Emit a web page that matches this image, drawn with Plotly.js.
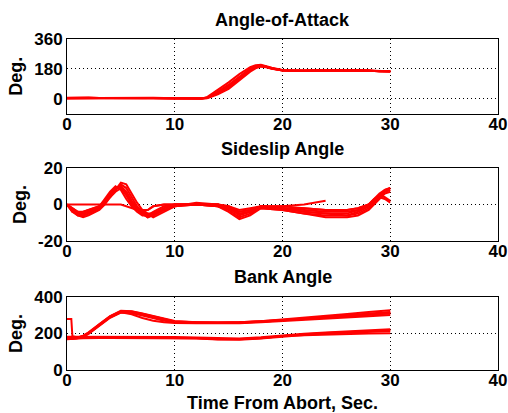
<!DOCTYPE html>
<html>
<head>
<meta charset="utf-8">
<script src="https://cdn.plot.ly/plotly-3.0.1.min.js"></script>
<style>html,body{margin:0;padding:0;background:#fff;}#chart{width:508px;height:413px;}</style>
</head>
<body>
<div id="chart"></div>
<script>
// ---------- Data ----------
const panelTitles = ["Angle-of-Attack", "Sideslip Angle", "Bank Angle"];
const yLabel = "Deg.";
const xLabel = "Time From Abort, Sec.";
const xTicks = [0, 10, 20, 30, 40];
const aoaTicks = [0, 180, 360];
const betaTicks = [-20, 0, 20];
const bankTicks = [0, 200, 400];

// Angle-of-attack runs
const tAoA = [0,1,2,3,4,5,6,7,8,9,10,11,12,12.5,13,14,15,16,17,17.5,18,18.5,19,20,21,22,23,24,25,26,27,28,28.5,29,30];
const aoaRun1 = [2,4,3,2,3,2,2,2,3,2,0,0,0,0,4,35,72,125,175,192,198,192,182,170,168,168,170,170,170,171,172,170,166,165,165];
const aoaRun2 = [3,5,4,3,2,3,2,3,4,1,0,0,0,1,9,52,98,148,190,201,204,196,186,173,168,169,170,171,171,172,172,170,167,164,164];
const aoaRun3 = [1,3,2,3,4,2,3,2,2,1,0,0,0,0,2,26,58,110,163,183,193,189,180,170,167,168,169,169,170,170,171,170,167,166,166];
const aoaRun4 = [4,6,5,3,3,3,2,2,3,2,1,0,0,1,6,42,84,134,181,196,201,193,184,171,169,169,170,170,171,171,172,171,168,165,163];
const aoaRun5 = [2,3,3,2,2,2,2,3,2,1,0,0,0,0,3,31,66,120,172,190,197,190,181,169,167,167,168,170,170,170,171,169,166,165,165];
const aoaRun6 = [5,7,6,4,5,4,3,4,5,3,1,0,0,0,5,38,78,130,178,194,199,192,183,171,168,168,169,170,170,171,171,170,167,165,164];

// Sideslip runs
const tBeta = [0,0.5,1,1.5,2,3,3.5,4,4.5,5,5.5,6,6.5,7,7.5,8,9,10,12,14,15,16,17,18,20,22,24,26,27,28,28.5,29,29.5,30];
const betaRun1 = [0,-3,-5,-5,-4,-1,3,7,10,8,3,-1,-4,-6,-6,-4,-1,0,0,0,-2,-6,-4,-1,-2,-3,-4,-4,-3,-1,2,5,7,8];
const betaRun2 = [0,-4,-6,-6,-5,-2,2,6,9,10,6,1,-3,-5,-7,-5,-2,0,0,-1,-3,-7,-5,-2,-3,-5,-6,-6,-5,-2,1,4,7,8];
const betaRun3 = [0,-2,-4,-5,-4,-2,1,4,8,11,9,4,-1,-4,-6,-6,-3,-1,1,0,-1,-4,-3,-1,-1,-2,-3,-3,-2,0,3,6,8,9];
const betaRun4 = [0,-3,-5,-4,-3,-1,1,4,8,12,11,6,1,-3,-5,-7,-4,-1,0,-1,-2,-5,-4,-1,-2,-4,-5,-5,-3,0,2,4,3,1];
const betaRun5 = [0,0,0,0,0,0,0,0,0,0,-1,-2,-3,-4,-3,-1,0,0,0,0,-1,-3,-2,-1,-2,-2,-3,-3,-2,0,3,5,4,2];
const betaRun6 = [0,-2,-4,-4,-3,-1,2,6,9,9,5,0,-2,-3,-3,-1,0,0,0,0,-2,-4,-3,-1,-1,0,2,null,null,null,null,null,null,null];
const betaRun7 = [0,-3,-6,-7,-6,-3,0,4,7,9,7,2,-2,-5,-7,-6,-3,-1,0,-1,-4,-8,-6,-2,-3,-5,-7,-7,-6,-3,0,3,6,7];
const betaRun8 = [0,-4,-5,-6,-5,-2,1,5,9,10,7,2,-2,-4,-5,-5,-2,0,0,0,-2,-5,-4,-1,-2,-4,-5,-6,-4,-1,2,5,8,9];

// Bank angle runs (upper and lower families)
const tBank = [0,0.4,0.5,1,1.5,2,3,4,5,6,7,8,9,10,12,14,16,18,20,22,24,26,28,30];
const bankUp1 = [280,280,185,178,185,200,245,290,318,312,298,282,270,263,260,258,260,265,272,280,288,296,305,312];
const bankUp2 = [175,173,172,174,182,198,242,286,314,314,305,292,276,264,258,257,259,264,271,279,287,295,303,310];
const bankUp3 = [180,178,176,178,188,206,252,296,325,322,310,296,282,268,262,260,262,267,276,286,296,307,318,328];
const bankUp4 = [170,170,171,175,183,201,247,289,316,305,285,270,262,258,256,254,256,261,267,274,281,288,295,302];
const bankUp5 = [178,176,175,177,186,203,249,292,320,318,302,288,275,265,260,258,261,266,274,282,291,300,309,318];
const bankUp6 = [172,172,173,176,184,202,250,294,322,320,308,294,279,266,261,259,260,265,273,281,289,298,306,315];
const bankLow1 = [175,175,176,178,179,180,180,180,180,180,180,180,179,179,176,171,170,176,188,196,203,209,214,218];
const bankLow2 = [168,168,170,172,174,176,176,176,176,176,176,176,175,175,172,167,166,172,184,192,199,205,210,214];
const bankLow3 = [182,182,182,182,182,183,183,183,183,183,183,182,181,181,178,173,172,179,191,199,206,212,218,223];
const bankLow4 = [172,172,174,176,177,178,178,178,178,178,178,178,177,177,174,169,168,174,186,191,195,198,200,202];

// ---------- Traces ----------
const red = '#ff0000';
function run(x, y, xa, ya) {
  return {x: x, y: y, xaxis: xa, yaxis: ya, type: 'scatter', mode: 'lines',
          line: {color: red, width: 2}, hoverinfo: 'skip', showlegend: false};
}
const traces = [];
[aoaRun1, aoaRun2, aoaRun3, aoaRun4, aoaRun5, aoaRun6].forEach(r => traces.push(run(tAoA, r, 'x', 'y')));
[betaRun1, betaRun2, betaRun3, betaRun4, betaRun5, betaRun6, betaRun7, betaRun8].forEach(r => traces.push(run(tBeta, r, 'x2', 'y2')));
[bankUp1, bankUp2, bankUp3, bankUp4, bankUp5, bankUp6, bankLow1, bankLow2, bankLow3, bankLow4].forEach(r => traces.push(run(tBank, r, 'x3', 'y3')));

// ---------- Layout ----------
const fam = 'Liberation Sans, Arial, Helvetica, sans-serif';
const tickFont = {family: fam, size: 17, color: '#000', weight: 'bold'};
const titleFont = {family: fam, size: 18, color: '#000', weight: 'bold'};

function xAxis(anchor) {
  return {domain: [0, 1], anchor: anchor, range: [0, 40], tickmode: 'array', tickvals: xTicks,
          ticktext: xTicks.map(String), tickfont: tickFont, showline: true, mirror: true,
          linecolor: '#000', linewidth: 1, showgrid: true, gridcolor: '#000', gridwidth: 1,
          griddash: '1px,3px', zeroline: false, ticks: '', ticklabelstandoff: -5, fixedrange: true};
}
function yAxis(anchor, dom, rng, tv) {
  return {domain: dom, anchor: anchor, range: rng, tickmode: 'array', tickvals: tv,
          ticktext: tv.map(String), tickfont: tickFont, showline: true, mirror: true,
          linecolor: '#000', linewidth: 1, showgrid: true, gridcolor: '#000', gridwidth: 1,
          griddash: '1px,3px', zeroline: false, ticks: '', fixedrange: true,
          title: {text: yLabel, font: titleFont, standoff: 6}};
}

const H = 413;
const dom1 = [1 - 113.5 / H, 1 - 39 / H];
const dom2 = [1 - 241 / H, 1 - 168 / H];
const dom3 = [1 - 370 / H, 1 - 297 / H];

const xa3 = xAxis('y3');
xa3.title = {text: xLabel, font: titleFont, standoff: 6};

const layout = {
  width: 508, height: 413,
  margin: {l: 67, r: 10, t: 0, b: 0, pad: 0},
  paper_bgcolor: '#fff', plot_bgcolor: '#fff',
  showlegend: false,
  xaxis: xAxis('y'), xaxis2: xAxis('y2'), xaxis3: xa3,
  yaxis: yAxis('x', dom1, [-90, 360], aoaTicks),
  yaxis2: yAxis('x2', dom2, [-20, 20], betaTicks),
  yaxis3: yAxis('x3', dom3, [0, 400], bankTicks),
  annotations: [
    {text: panelTitles[0], xref: 'paper', yref: 'paper', x: 0.5, y: 1 - 20 / H, xanchor: 'center', yanchor: 'middle', showarrow: false, font: titleFont},
    {text: panelTitles[1], xref: 'paper', yref: 'paper', x: 0.5, y: 1 - 149 / H, xanchor: 'center', yanchor: 'middle', showarrow: false, font: titleFont},
    {text: panelTitles[2], xref: 'paper', yref: 'paper', x: 0.5, y: 1 - 277 / H, xanchor: 'center', yanchor: 'middle', showarrow: false, font: titleFont}
  ]
};

Plotly.newPlot('chart', traces, layout, {displayModeBar: false, staticPlot: true});
</script>
</body>
</html>
